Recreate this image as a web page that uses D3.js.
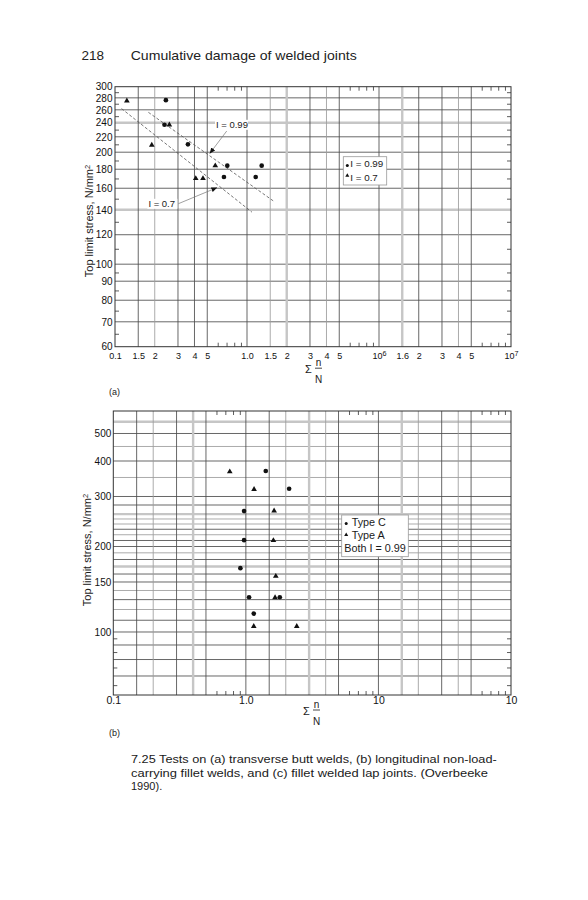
<!DOCTYPE html>
<html><head><meta charset="utf-8">
<script src="https://cdn.jsdelivr.net/npm/d3@7"></script>
<style>
body{margin:0;background:#fff;}
svg{display:block;font-family:"Liberation Sans",Arial,Helvetica,sans-serif;}
</style></head><body>
<svg id="c" width="588" height="900"></svg>
<script>
// ---------- chart (a) data ----------
const aCircleN = [0.243, 0.237, 0.357, 0.709, 0.669, 1.164, 1.292];
const aCircleS = [276, 237, 210, 184, 171.5, 171.5, 184];
const aTriN = [0.123, 0.258, 0.190, 0.575, 0.409, 0.464];
const aTriS = [275, 237, 209, 184, 170, 170];
const aLine99N = [0.179, 1.58];
const aLine99S = [256, 148];
const aLine70N = [0.112, 1.09];
const aLine70S = [262, 138];
const aXTickVals = [0.1, 0.15, 0.2, 0.3, 0.4, 0.5, 1, 1.5, 2, 3, 4, 5, 10, 15, 20, 30, 40, 50, 100];
const aXTickLabels = ["0.1", "1.5", "2", "3", "4", "5", "1.0", "1.5", "2", "3", "4", "5", "10^6", "1.6", "2", "3", "4", "5", "10^7"];
const aYTickVals = [300, 280, 260, 240, 220, 200, 180, 160, 140, 120, 100, 90, 80, 70, 60];
const aGridY = [280, 260, 240, 220, 200, 180, 160, 140, 120, 100, 90, 80, 70];
const aMinorY = [290, 270, 250, 230, 210, 190, 170, 150, 130, 110, 95, 85, 75, 65];
const aLegend = ["I = 0.99", "I = 0.7"];
// annotations: label anchor and arrow (from -> to), in data units
const aNoteLabels = ["I = 0.99", "I = 0.7"];
const aNoteTextN = [0.582, 0.179];
const aNoteTextS = [231.9, 142.2];
const aNoteFromN = [0.702, 0.302];
const aNoteFromS = [228, 145.4];
const aNoteToN = [0.524, 0.590];
const aNoteToS = [198.7, 160.5];

// ---------- chart (b) data ----------
const bCircleN = [1.413, 2.12, 0.969, 0.969, 0.909, 1.057, 1.803, 1.147];
const bCircleS = [368.8, 319.4, 266.5, 210.6, 167.8, 132.5, 132.5, 116.1];
const bTriN = [0.756, 1.153, 1.633, 1.613, 1.682, 1.66, 1.147, 2.42];
const bTriS = [366.7, 317.8, 267.2, 210.1, 157.2, 132.2, 104.7, 104.7];
const bXTickVals = [0.1, 1, 10, 100];
const bXTickLabels = ["0.1", "1.0", "10", "10"];
const bYTickVals = [500, 400, 300, 200, 150, 100];
const bGridY = [550, 500, 450, 400, 350, 300, 280, 260, 250, 240, 230, 220, 210, 200, 190, 180, 170, 160, 150, 140, 130, 120, 110, 100, 90, 80, 70];
const bMinorY = [95, 85, 75, 65];
const bLegend = ["Type C", "Type A", "Both I = 0.99"];

// shared grid
const gridX = [0.15, 0.2, 0.3, 0.4, 0.5, 1, 1.5, 2, 3, 4, 5, 10, 15, 20, 30, 40, 50];
const minorX = [0.6, 0.7, 0.8, 0.9, 6, 7, 8, 9, 60, 70, 80, 90];

// ---------- styles (kept apart from data) ----------
const aHeavyX = [2, 15], aLightX = [0.2, 1.5, 4, 40];
const aHeavyY = [240, 140];
const bHeavyX = [0.4, 3, 15], bLightX = [0.2, 2, 4, 20, 40];
const bHeavyY = [550, 260, 170], bLightY = [450, 350, 250, 240, 220, 190, 140, 120];

const svg = d3.select("#c");
const defs = svg.append("defs");
defs.append("marker").attr("id", "arr").attr("viewBox", "0 0 10 10").attr("refX", 9).attr("refY", 5)
  .attr("markerWidth", 6).attr("markerHeight", 6).attr("markerUnits", "userSpaceOnUse").attr("orient", "auto")
  .append("path").attr("d", "M0,1 L10,5 L0,9 Z").attr("fill", "#111");

// header
svg.append("text").attr("x", 81.5).attr("y", 60).attr("font-size", 13.5).attr("fill", "#222").text("218");
svg.append("text").attr("x", 130.7).attr("y", 60).attr("font-size", 13.5).attr("fill", "#222")
  .attr("textLength", 226).attr("lengthAdjust", "spacingAndGlyphs").text("Cumulative damage of welded joints");

function panel(o) {
  const x = d3.scaleLog().domain([0.1, 100]).range([o.x0, o.x1]);
  const y = d3.scaleLog().domain(o.yDom).range([o.y1, o.y0]);
  const g = svg.append("g");
  const cls = (v, heavy, light) => heavy.includes(v) ? "h" : (light.includes(v) ? "l" : "d");
  const sty = s => s.attr("stroke", d => d.c === "h" ? "#c6c6c6" : d.c === "l" ? "#9c9c9c" : "#4c4c4c")
    .attr("stroke-width", d => d.c === "h" ? 2.4 : 0.85).attr("fill", "none");
  const vx = gridX.map(v => ({v, c: cls(v, o.heavyX, o.lightX)})).sort((a, b) => (b.c === "h") - (a.c === "h"));
  const hy = o.gridY.map(v => ({v, c: cls(v, o.heavyY, o.lightY)})).sort((a, b) => (b.c === "h") - (a.c === "h"));
  g.append("g").selectAll("line").data(hy).join("line")
    .attr("x1", o.x0).attr("x2", o.x1).attr("y1", d => y(d.v)).attr("y2", d => y(d.v)).call(sty);
  g.append("g").selectAll("line").data(vx).join("line")
    .attr("y1", o.y0).attr("y2", o.y1).attr("x1", d => x(d.v)).attr("x2", d => x(d.v)).call(sty);
  g.append("rect").attr("x", o.x0).attr("y", o.y0).attr("width", o.x1 - o.x0).attr("height", o.y1 - o.y0)
    .attr("fill", "none").attr("stroke", "#333").attr("stroke-width", 1);

  const tk = s => { s.select(".domain").remove(); s.selectAll("line").attr("stroke", "#333").attr("stroke-width", 0.8); };
  g.append("g").attr("transform", `translate(${o.x0},0)`).call(d3.axisLeft(y).tickValues(o.minorY).tickSize(-4).tickFormat("")).call(tk);
  g.append("g").attr("transform", `translate(${o.x1},0)`).call(d3.axisRight(y).tickValues(o.minorY).tickSize(-4).tickFormat("")).call(tk);
  g.append("g").attr("transform", `translate(0,${o.y0})`).call(d3.axisTop(x).tickValues(minorX).tickSize(-4).tickFormat("")).call(tk);
  g.append("g").attr("transform", `translate(0,${o.y1})`).call(d3.axisBottom(x).tickValues(minorX).tickSize(-4).tickFormat("")).call(tk);

  const ya = g.append("g").attr("transform", `translate(${o.x0},0)`)
    .call(d3.axisLeft(y).tickValues(o.yTicks).tickFormat(d3.format("d")).tickSize(0).tickPadding(o.yPad));
  ya.select(".domain").remove();
  ya.attr("font-family", null).attr("font-size", null);
  ya.selectAll("text").attr("font-size", 10).attr("fill", "#111");

  const xa = g.append("g").attr("transform", `translate(0,${o.y1})`)
    .call(d3.axisBottom(x).tickValues(o.xTicks).tickFormat((d, i) => o.xLabels[i]).tickSize(0).tickPadding(o.xPad));
  xa.select(".domain").remove();
  xa.attr("font-family", null).attr("font-size", null);
  xa.selectAll("text").attr("font-size", o.xFont).attr("fill", "#111").each(function () {
    const t = d3.select(this), s = t.text();
    if (s.includes("^")) {
      const [b, e] = s.split("^");
      t.text(null);
      t.append("tspan").text(b);
      t.append("tspan").attr("dy", "-0.45em").attr("font-size", o.xFont * 0.8).text(e);
    }
  });

  const yt = g.append("text").attr("transform", `translate(${o.yTitleX},${o.yTitleY}) rotate(-90)`)
    .attr("text-anchor", "middle").attr("font-size", 11).attr("fill", "#1a1a1a");
  yt.append("tspan").text("Top limit stress, N/mm");
  yt.append("tspan").attr("dy", "-0.45em").attr("font-size", 7.5).text("2");

  // x title: Σ n/N
  const cx = o.sigmaX, by = o.y1 + o.sigDy;
  g.append("text").attr("x", cx).attr("y", by + 20).attr("font-size", 11).attr("fill", "#1a1a1a").text("Σ");
  g.append("text").attr("x", cx + 13.5).attr("y", by + 13).attr("font-size", 10).attr("text-anchor", "middle").attr("fill", "#1a1a1a").text("n");
  g.append("line").attr("x1", cx + 10).attr("x2", cx + 17).attr("y1", by + 15).attr("y2", by + 15).attr("stroke", "#1a1a1a").attr("stroke-width", 0.8);
  g.append("text").attr("x", cx + 13.5).attr("y", by + 30).attr("font-size", 10).attr("text-anchor", "middle").attr("fill", "#1a1a1a").text("N");

  g.append("text").attr("x", 109).attr("y", o.tagY).attr("font-size", 9).attr("fill", "#1a1a1a").text(o.tag);
  return {g, x, y};
}

const tri = d3.symbol().type(d3.symbolTriangle).size(14);
const triS = d3.symbol().type(d3.symbolTriangle).size(7);
function points(p, N, S, kind) {
  const sel = p.g.append("g").selectAll("path").data(N.map((n, i) => [n, S[i]])).join("path");
  if (kind === "c") sel.attr("d", d3.symbol().type(d3.symbolCircle).size(17)());
  else sel.attr("d", tri());
  sel.attr("transform", d => `translate(${p.x(d[0])},${p.y(d[1])})`).attr("fill", "#111");
}

// ---------- panel (a) ----------
const A = panel({x0: 115, x1: 511, y0: 86.7, y1: 346.7, yDom: [60, 300],
  heavyX: aHeavyX, lightX: aLightX, heavyY: aHeavyY, lightY: [], gridY: aGridY, minorY: aMinorY,
  yTicks: aYTickVals, yPad: 2.5, xTicks: aXTickVals, xLabels: aXTickLabels, xFont: 9, xPad: 6,
  yTitleX: 93, yTitleY: 221, sigmaX: 305, sigDy: 6.5, tag: "(a)", tagY: 395});

const line = d3.line().x(d => A.x(d[0])).y(d => A.y(d[1]));
[[aLine99N, aLine99S], [aLine70N, aLine70S]].forEach(([N, S]) => {
  A.g.append("path").attr("d", line(N.map((n, i) => [n, S[i]]))).attr("fill", "none")
    .attr("stroke", "#555").attr("stroke-width", 0.8).attr("stroke-dasharray", "3,2");
});
points(A, aCircleN, aCircleS, "c");
points(A, aTriN, aTriS, "t");
aNoteLabels.forEach((lab, i) => {
  A.g.append("line").attr("x1", A.x(aNoteFromN[i])).attr("y1", A.y(aNoteFromS[i]))
    .attr("x2", A.x(aNoteToN[i])).attr("y2", A.y(aNoteToS[i])).attr("stroke", "#777").attr("stroke-width", 0.7)
    .attr("marker-end", "url(#arr)");
  A.g.append("rect").attr("x", A.x(aNoteTextN[i]) - 1).attr("y", A.y(aNoteTextS[i]) - 8.5).attr("width", i ? 30 : 33).attr("height", 10).attr("fill", "#fff");
  A.g.append("text").attr("x", A.x(aNoteTextN[i])).attr("y", A.y(aNoteTextS[i])).attr("font-size", 9.5).attr("fill", "#1a1a1a").text(lab);
});
const la = A.g.append("g").attr("transform", "translate(343.3,156.7)");
la.append("rect").attr("width", 43.4).attr("height", 28.3).attr("fill", "#fff").attr("stroke", "#999").attr("stroke-width", 0.8);
la.append("circle").attr("cx", 4).attr("cy", 8.7).attr("r", 1.5).attr("fill", "#111");
la.append("path").attr("d", triS()).attr("transform", "translate(4,18.8)").attr("fill", "#111");
aLegend.forEach((t, i) => la.append("text").attr("x", 7).attr("y", 10.8 + i * 13.8).attr("font-size", 9.8).attr("fill", "#1a1a1a").text(t));

// ---------- panel (b) ----------
const B = panel({x0: 113.3, x1: 511, y0: 411, y1: 695, yDom: [60, 600],
  heavyX: bHeavyX, lightX: bLightX, heavyY: bHeavyY, lightY: bLightY, gridY: bGridY, minorY: bMinorY,
  yTicks: bYTickVals, yPad: 2, xTicks: bXTickVals, xLabels: bXTickLabels, xFont: 10.5, xPad: 2,
  yTitleX: 91, yTitleY: 550, sigmaX: 303, sigDy: 0, tag: "(b)", tagY: 736});
points(B, bCircleN, bCircleS, "c");
points(B, bTriN, bTriS, "t");
const lb = B.g.append("g").attr("transform", "translate(341.7,515)");
lb.append("rect").attr("width", 66.6).attr("height", 41.7).attr("fill", "#fff").attr("stroke", "#999").attr("stroke-width", 0.8);
lb.append("circle").attr("cx", 4.5).attr("cy", 8.5).attr("r", 1.5).attr("fill", "#111");
lb.append("path").attr("d", triS()).attr("transform", "translate(4.5,19.8)").attr("fill", "#111");
bLegend.forEach((t, i) => lb.append("text").attr("x", i < 2 ? 10 : 2.6).attr("y", 11 + i * 13.2).attr("font-size", 10.8).attr("fill", "#1a1a1a").text(t));

// ---------- caption ----------
const cap = ["7.25 Tests on (a) transverse butt welds, (b) longitudinal non-load-",
  "carrying fillet welds, and (c) fillet welded lap joints. (Overbeeke",
  "1990)."];
const capLen = [365.7, 357, null];
cap.forEach((t, i) => {
  const e = svg.append("text").attr("x", 131).attr("y", 762.7 + i * 13.8).attr("font-size", 11).attr("fill", "#1a1a1a").text(t);
  if (capLen[i]) e.attr("textLength", capLen[i]).attr("lengthAdjust", "spacingAndGlyphs");
});
</script>
</body></html>
